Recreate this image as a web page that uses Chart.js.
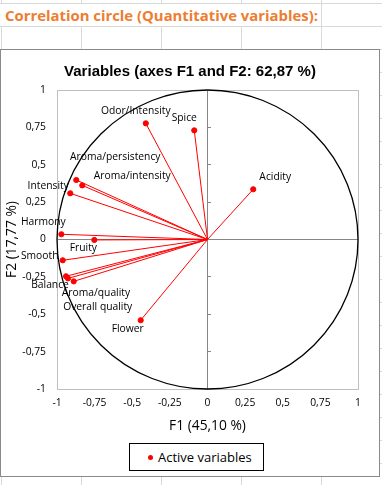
<!DOCTYPE html>
<html>
<head>
<meta charset="utf-8">
<script src="https://cdn.jsdelivr.net/npm/chart.js@4.4.1/dist/chart.umd.min.js"></script>
<style>
  html, body { margin: 0; padding: 0; background: #fff; }
  body { width: 382px; height: 485px; position: relative; overflow: hidden; }
  .sheet {
    position: absolute; left: 0; top: 0; width: 382px; height: 485px;
    background-image:
      linear-gradient(to right, #d9d9d9 1px, transparent 1px),
      linear-gradient(to bottom, #d9d9d9 1px, transparent 1px);
    background-size: 80px 100%, 100% 23px;
    background-position: 81px 0, 0 3px;
  }
  .header {
    position: absolute; left: 0; top: 4px; width: 320px; height: 22px;
    background: #fff; white-space: nowrap;
    font-family: "Open Sans", sans-serif; font-weight: bold; color: #ED7D31;
    line-height: 22px; padding-left: 5px; box-sizing: border-box;
  }
  .box {
    position: absolute; left: 0; top: 49px; width: 380px; height: 428px;
    border: 1px solid #8a8a8a; box-sizing: border-box; background: #fff;
  }
  .inner { position: relative; width: 378px; height: 426px; }
  .legend {
    position: absolute; left: 129px; top: 443px; width: 135px; height: 28px;
    border: 1px solid #000; box-sizing: border-box; background: #fff;
    font-family: "Open Sans", sans-serif; font-size: 13px; color: #000;
  }
  .legend .dot {
    position: absolute; left: 18px; top: 11px; width: 5px; height: 5px;
    border-radius: 50%; background: #ff0000;
  }
  .legend .txt { position: absolute; left: 28px; top: 4px; line-height: 18px; }
</style>
</head>
<body>
<div class="sheet"></div>
<div class="header" id="header">Correlation circle (Quantitative variables):</div>
<div class="box"><div class="inner"><canvas id="chart"></canvas></div></div>
<div class="legend"><span class="dot"></span><span class="txt">Active variables</span></div>
<script>
// variables and their coordinates on F1 / F2
const VARIABLES = ['Odor/Intensity', 'Spice', 'Acidity', 'Aroma/persistency', 'Aroma/intensity',
  'Intensity', 'Harmony', 'Fruity', 'Smooth', 'Balance', 'Aroma/quality', 'Overall quality', 'Flower'];
const F1 = [-0.410, -0.088, 0.304, -0.872, -0.832, -0.912, -0.971, -0.752, -0.962, -0.940, -0.927, -0.889, -0.444];
const F2 = [0.777, 0.730, 0.336, 0.398, 0.362, 0.309, 0.035, -0.003, -0.139, -0.246, -0.260, -0.280, -0.540];

const TICK_VALUES = [-1, -0.75, -0.5, -0.25, 0, 0.25, 0.5, 0.75, 1];
const TICK_LABELS = ['-1', '-0,75', '-0,5', '-0,25', '0', '0,25', '0,5', '0,75', '1'];

const TITLE = 'Variables (axes F1 and F2: 62,87 %)';
const X_TITLE = 'F1 (45,10 %)';
const Y_TITLE = 'F2 (17,77 %)';
const SERIES_NAME = 'Active variables';

// label placement next to each point (pixels, text centre relative to the point)
const LABEL_OFFSETS = [[-10, -12], [-10, -12], [22, -12], [39, -23], [50, -9], [-22, -7], [-18, -12],
  [-11, 8], [-23, -4], [-16, 9], [28, 15], [24, 26], [-13, 9]];

// fit header text to its width
(function () {
  const el = document.getElementById('header');
  const c = document.createElement('canvas').getContext('2d');
  c.font = 'bold 100px "Open Sans"';
  const w = c.measureText(el.textContent).width;
  el.style.fontSize = (100 * 313 / w).toFixed(2) + 'px';
})();

const FONT = '"Open Sans", sans-serif';
const tickLabel = v => TICK_LABELS[TICK_VALUES.indexOf(v)];
const setTicks = s => { s.ticks = TICK_VALUES.map(v => ({ value: v })); };

const points = VARIABLES.map((name, i) => ({ x: F1[i], y: F2[i] }));
const vectorSets = VARIABLES.map((name, i) => ({
  label: name,
  data: [{ x: 0, y: 0 }, { x: F1[i], y: F2[i] }],
  showLine: true,
  borderColor: '#ff0000',
  borderWidth: 1,
  pointRadius: 0,
  order: 1
}));

const framePlugin = {
  id: 'frame',
  beforeDatasetsDraw(chart) {
    const { ctx, chartArea: a, scales } = chart;
    ctx.save();
    ctx.strokeStyle = '#bfbfbf';
    ctx.lineWidth = 1;
    ctx.strokeRect(Math.round(a.left) + 0.5, Math.round(a.top) + 0.5,
      Math.round(a.right - a.left), Math.round(a.bottom - a.top));
    // unit circle
    const cx = scales.x.getPixelForValue(0), cy = scales.y.getPixelForValue(0);
    const rx = scales.x.getPixelForValue(1) - cx, ry = cy - scales.y.getPixelForValue(1);
    ctx.strokeStyle = '#000';
    ctx.lineWidth = 1.3;
    ctx.beginPath();
    ctx.ellipse(cx, cy, rx, ry, 0, 0, Math.PI * 2);
    ctx.stroke();
    ctx.restore();
  }
};

const labelPlugin = {
  id: 'pointLabels',
  afterDatasetsDraw(chart) {
    const { ctx } = chart;
    const meta = chart.getDatasetMeta(0);
    ctx.save();
    ctx.font = '10.3px ' + FONT;
    ctx.fillStyle = '#000';
    ctx.textAlign = 'center';
    ctx.textBaseline = 'middle';
    meta.data.forEach((pt, i) => {
      const [dx, dy] = LABEL_OFFSETS[i];
      ctx.fillText(VARIABLES[i], pt.x + dx, pt.y + dy);
    });
    ctx.restore();
  }
};

new Chart(document.getElementById('chart'), {
  type: 'scatter',
  data: {
    datasets: [{
      label: SERIES_NAME,
      data: points,
      backgroundColor: '#ff0000',
      borderColor: '#ff0000',
      pointRadius: 2.6,
      pointHoverRadius: 2.6,
      order: 0
    }].concat(vectorSets)
  },
  options: {
    responsive: true,
    maintainAspectRatio: false,
    animation: false,
    layout: { padding: { left: 0, right: 0, top: 0, bottom: 39 } },
    plugins: {
      legend: { display: false },
      tooltip: { enabled: false },
      title: {
        display: true,
        text: TITLE,
        color: '#000',
        font: { family: '"Liberation Sans", Arial, sans-serif', size: 15, weight: 'bold', lineHeight: 1.2 },
        padding: { top: 12.5, bottom: 9.5 }
      }
    },
    scales: {
      x: {
        type: 'linear', position: 'bottom', min: -1, max: 1,
        afterBuildTicks: setTicks,
        afterFit: s => { s.height = 48; },
        grid: { display: false, drawTicks: false },
        border: { display: false },
        ticks: { callback: tickLabel, padding: 8, color: '#000', font: { family: FONT, size: 10.3 }, maxRotation: 0 },
        title: { display: true, text: X_TITLE, color: '#000', font: { family: FONT, size: 13.8 }, padding: { top: 0, bottom: 2.2 } }
      },
      y: {
        type: 'linear', position: 'left', min: -1, max: 1,
        afterBuildTicks: setTicks,
        afterFit: s => { s.width = 56; },
        grid: { display: false, drawTicks: false },
        border: { display: false },
        ticks: { callback: tickLabel, padding: 11, color: '#000', font: { family: FONT, size: 10.3 } },
        title: { display: true, text: Y_TITLE, color: '#000', font: { family: FONT, size: 13.8 }, padding: { top: 2.7, bottom: 0 } }
      },
      // empty right-hand space so the title stays centred on the whole chart
      yR: {
        type: 'linear', axis: 'y', position: 'right', min: -1, max: 1,
        afterFit: s => { s.width = 21; },
        ticks: { display: false },
        grid: { display: false, drawTicks: false },
        border: { display: false }
      },
      x0: {
        type: 'linear', axis: 'x', position: { y: 0 }, min: -1, max: 1,
        afterBuildTicks: setTicks,
        ticks: { display: false },
        grid: { drawOnChartArea: false, drawTicks: false },
        border: { display: true, color: '#868686', width: 1 }
      },
      y0: {
        type: 'linear', axis: 'y', position: { x: 0 }, min: -1, max: 1,
        afterBuildTicks: setTicks,
        ticks: { display: false },
        grid: { drawOnChartArea: false, drawTicks: true, tickLength: -4, color: '#868686' },
        border: { display: true, color: '#868686', width: 1 }
      }
    }
  },
  plugins: [framePlugin, labelPlugin]
});
</script>
</body>
</html>
